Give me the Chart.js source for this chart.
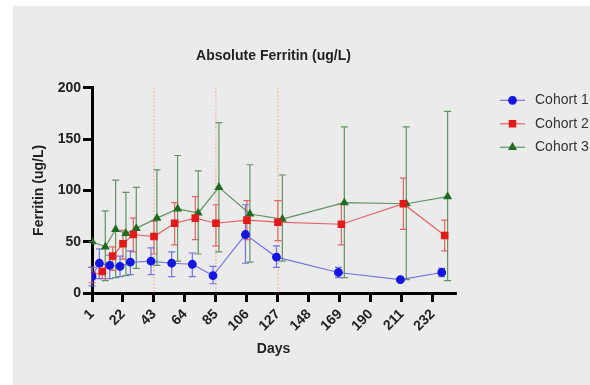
<!DOCTYPE html>
<html>
<head>
<meta charset="utf-8">
<script src="https://cdn.jsdelivr.net/npm/chart.js@4.4.1/dist/chart.umd.min.js"></script>
<style>
  html, body { margin: 0; padding: 0; background: #fff; }
  #panel { position: absolute; left: 13px; top: 6px; width: 577px; height: 379px; background: #ebebeb; }
  canvas { display: block; }
</style>
</head>
<body>
<div id="panel"><canvas id="ferritinChart" width="577" height="379"></canvas></div>
<script>
// values
const xTicks = [1, 22, 43, 64, 85, 106, 127, 148, 169, 190, 211, 232];
const doseDays = [43, 85, 127];

const days1 = [1, 6, 13, 20, 27, 41, 55, 69, 83, 105, 126, 168, 210, 238];
const cohort1 = [16, 29, 27, 26, 30, 31, 29, 28, 17, 57, 35, 20, 13, 20];
const cohort1Lo = [7, 14, 14, 16, 18, 18, 16, 16, 9, 29, 25, 15, 12, 16];
const cohort1Hi = [25, 43, 37, 36, 41, 44, 40, 39, 26, 86, 46, 25, 14, 24];

const days2 = [1, 8, 15, 22, 29, 43, 57, 71, 85, 106, 127, 170, 212, 240];
const cohort2 = [17, 21, 36, 48, 57, 55, 68, 73, 68, 71, 69, 67, 87, 56];
const cohort2Lo = [10, 14, 22, 33, 40, 38, 47, 52, 46, 52, 51, 47, 62, 41];
const cohort2Hi = [25, 28, 45, 61, 73, 70, 88, 94, 86, 90, 90, 87, 112, 71];

const days3 = [1, 10, 17, 24, 31, 45, 59, 73, 87, 108, 130, 172, 214, 242];
const cohort3 = [50, 45, 62, 58, 63, 73, 82, 78, 103, 77, 72, 88, 87, 94];
const cohort3Lo = [50, 12, 15, 17, 24, 27, 31, 38, 40, 30, 31, 15, 13, 12];
const cohort3Hi = [50, 80, 110, 98, 103, 120, 134, 119, 166, 125, 115, 162, 162, 177];

function toPoints(days, vals) {
  return days.map((d, i) => ({ x: d, y: vals[i] }));
}

const errorBars = {
  id: "errorBars",
  beforeDatasetsDraw(chart) {
    const { ctx, scales: { x, y }, chartArea } = chart;
    ctx.save();
    // dotted dosing lines
    ctx.strokeStyle = "#e9a27f";
    ctx.lineWidth = 1;
    ctx.setLineDash([1.5, 2]);
    doseDays.forEach((d) => {
      const px = x.getPixelForValue(d);
      ctx.beginPath();
      ctx.moveTo(px, y.getPixelForValue(200));
      ctx.lineTo(px, chartArea.bottom);
      ctx.stroke();
    });
    ctx.setLineDash([]);
    for (let i = chart.data.datasets.length - 1; i >= 0; i--) {
      const ds = chart.data.datasets[i];
      ctx.strokeStyle = ds.borderColor;
      ctx.lineWidth = 1.2;
      ds.data.forEach((p, j) => {
        const px = x.getPixelForValue(p.x);
        const lo = y.getPixelForValue(ds.lo[j]);
        const hi = y.getPixelForValue(ds.hi[j]);
        ctx.beginPath();
        ctx.moveTo(px, lo);
        ctx.lineTo(px, hi);
        ctx.moveTo(px - 3.5, lo);
        ctx.lineTo(px + 3.5, lo);
        ctx.moveTo(px - 3.5, hi);
        ctx.lineTo(px + 3.5, hi);
        ctx.stroke();
      });
    }
    ctx.restore();
  },
};

const sideLegend = {
  id: "sideLegend",
  afterDraw(chart) {
    const { ctx, chartArea } = chart;
    ctx.save();
    chart.data.datasets.forEach((ds, i) => {
      const yy = chartArea.top + 12.5 + i * 23.5;
      const x0 = chartArea.right + 45;
      ctx.strokeStyle = ds.borderColor;
      ctx.lineWidth = 1.2;
      ctx.beginPath();
      ctx.moveTo(x0, yy);
      ctx.lineTo(x0 + 25, yy);
      ctx.stroke();
      ctx.fillStyle = ds.pointBackgroundColor;
      ctx.strokeStyle = ds.pointBackgroundColor;
      Chart.helpers.drawPoint(ctx, { pointStyle: ds.pointStyle, radius: ds.pointRadius, rotation: 0, borderWidth: 1 }, x0 + 12.5, yy);
      ctx.fillStyle = "#333";
      ctx.font = "14px 'Liberation Sans', Arial, sans-serif";
      ctx.textBaseline = "middle";
      ctx.fillText(ds.label, x0 + 35, yy);
    });
    ctx.restore();
  },
};

const boldFont = { family: "'Liberation Sans', Arial, sans-serif", size: 14, weight: "bold" };

new Chart(document.getElementById("ferritinChart").getContext("2d"), {
  type: "line",
  data: {
    datasets: [
      {
        label: "Cohort 1",
        data: toPoints(days1, cohort1),
        lo: cohort1Lo,
        hi: cohort1Hi,
        borderColor: "rgba(95, 95, 225, 0.85)",
        pointBackgroundColor: "#1515e0",
        pointBorderColor: "#1515e0",
        pointStyle: "circle",
        pointRadius: 3.8,
        borderWidth: 1.2,
      },
      {
        label: "Cohort 2",
        data: toPoints(days2, cohort2),
        lo: cohort2Lo,
        hi: cohort2Hi,
        borderColor: "rgba(225, 85, 85, 0.9)",
        pointBackgroundColor: "#e31a1a",
        pointBorderColor: "#e31a1a",
        pointStyle: "rect",
        pointRadius: 4.5,
        borderWidth: 1.2,
      },
      {
        label: "Cohort 3",
        data: toPoints(days3, cohort3),
        lo: cohort3Lo,
        hi: cohort3Hi,
        borderColor: "rgba(80, 140, 80, 0.9)",
        pointBackgroundColor: "#1f6b1f",
        pointBorderColor: "#1f6b1f",
        pointStyle: "triangle",
        pointRadius: 4,
        borderWidth: 1.2,
      },
    ],
  },
  options: {
    responsive: false,
    animation: false,
    layout: { padding: { left: 14, right: 135, top: 0, bottom: 20 } },
    plugins: {
      legend: { display: false },
      tooltip: { enabled: false },
      title: {
        display: true,
        fullSize: false,
        text: "Absolute Ferritin (ug/L)",
        color: "#222",
        font: boldFont,
        padding: { top: 42, bottom: 23 },
      },
    },
    scales: {
      x: {
        type: "linear",
        min: 1,
        max: 247,
        afterBuildTicks: (scale) => {
          scale.ticks = xTicks.map((v) => ({ value: v }));
        },
        afterFit: (scale) => {
          scale.height = 72;
        },
        border: { color: "#000", width: 3 },
        grid: { drawOnChartArea: false, color: "#000", lineWidth: 3, tickLength: 9 },
        ticks: { color: "#222", font: boldFont, minRotation: 45, maxRotation: 45, padding: 4 },
        title: {
          display: true,
          text: "Days",
          color: "#222",
          font: boldFont,
          padding: { top: 0, bottom: 7 },
        },
      },
      y: {
        min: 0,
        max: 200,
        afterFit: (scale) => {
          scale.width = 65;
        },
        border: { color: "#000", width: 3 },
        grid: { drawOnChartArea: false, color: "#000", lineWidth: 3, tickLength: 9 },
        ticks: { stepSize: 50, color: "#222", font: boldFont, padding: 2 },
        title: {
          display: true,
          text: "Ferritin (ug/L)",
          color: "#222",
          font: boldFont,
          padding: { top: 4, bottom: 0 },
        },
      },
    },
  },
  plugins: [errorBars, sideLegend],
});
</script>
</body>
</html>
